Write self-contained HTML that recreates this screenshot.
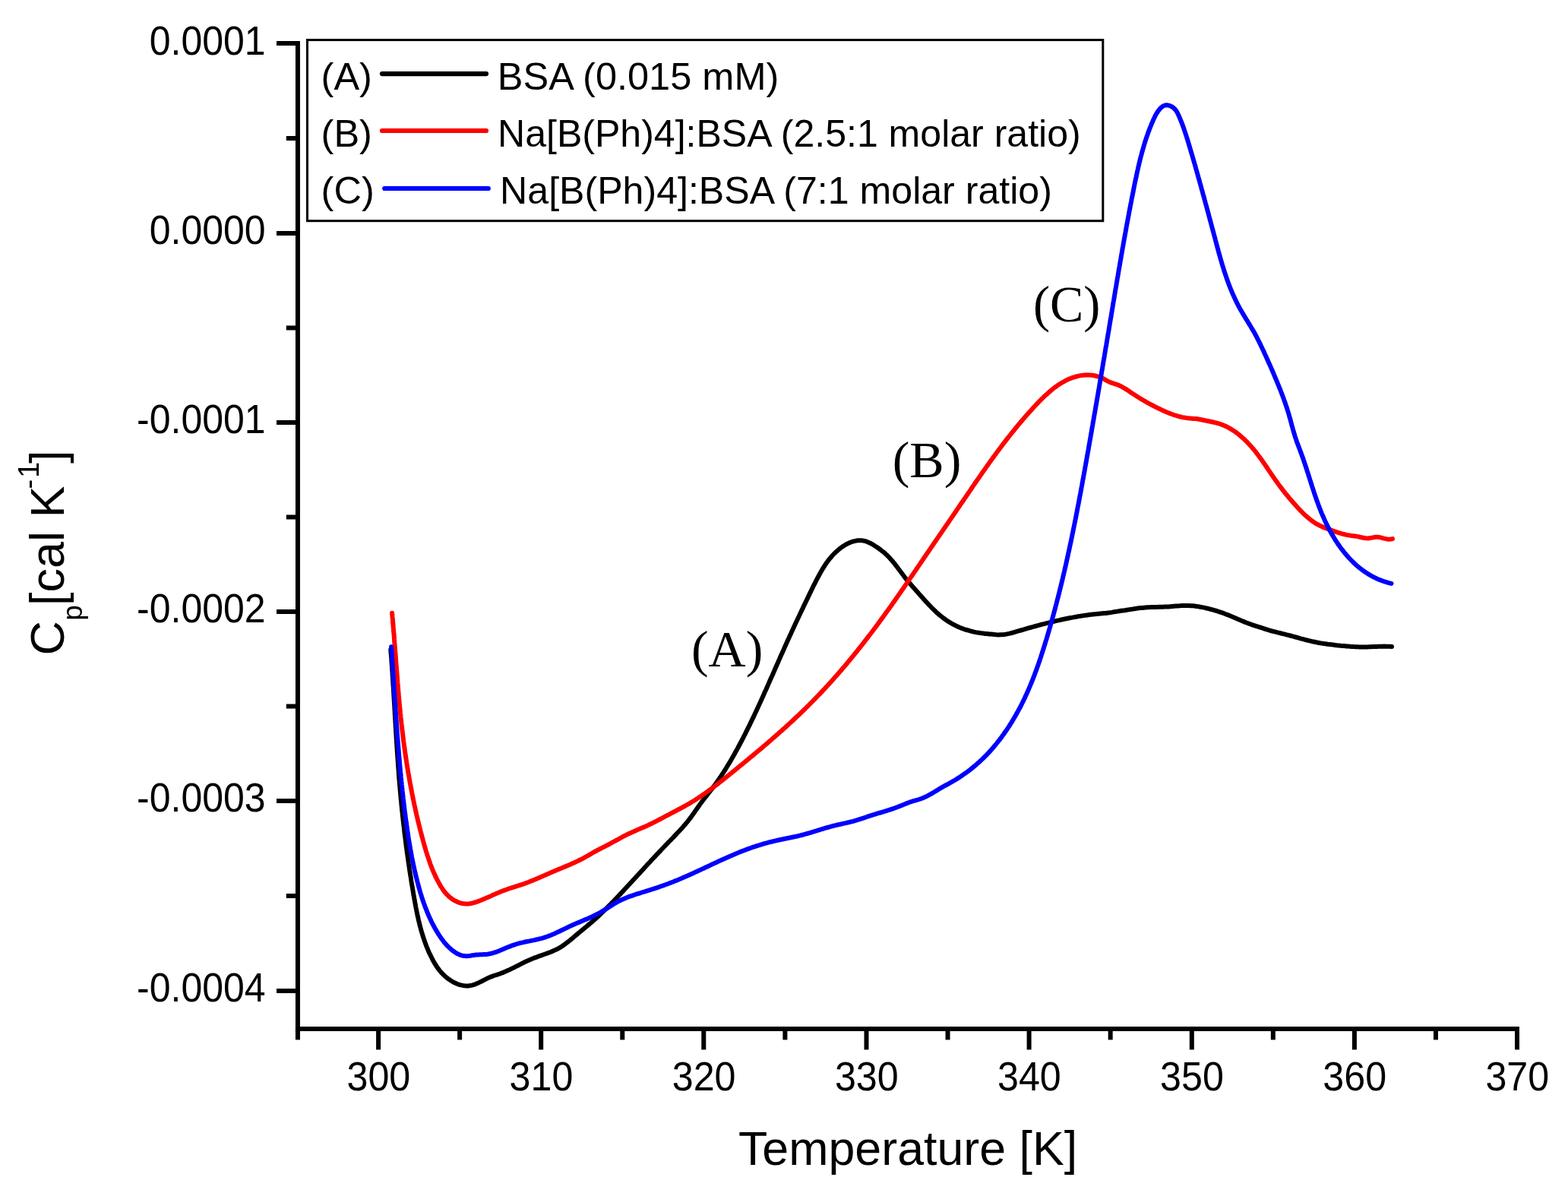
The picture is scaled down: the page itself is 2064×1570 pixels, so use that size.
<!DOCTYPE html>
<html><head><meta charset="utf-8"><title>Cp vs Temperature</title>
<style>
html,body{margin:0;padding:0;background:#fff;width:2064px;height:1570px;overflow:hidden}
svg{display:block}
.s{font-family:"Liberation Sans",Arial,sans-serif;fill:#000}
.r{font-family:"Liberation Serif","Times New Roman",serif;fill:#000}
</style></head><body>
<svg xmlns="http://www.w3.org/2000/svg" width="2064" height="1570" viewBox="0 0 2064 1570">
<rect width="2064" height="1570" fill="#fff"/>
<g stroke="#000" stroke-width="6" fill="none">
<path d="M391.95,54 V1357.0"/>
<path d="M388.95,1354.0 H2000"/>
<path d="M364,57.0 H391.9"/>
<path d="M364,307.0 H391.9"/>
<path d="M364,556.0 H391.9"/>
<path d="M364,805.0 H391.9"/>
<path d="M364,1054.0 H391.9"/>
<path d="M364,1304.0 H391.9"/>
<path d="M376.8,182.0 H391.9"/>
<path d="M376.8,431.5 H391.9"/>
<path d="M376.8,680.5 H391.9"/>
<path d="M376.8,929.5 H391.9"/>
<path d="M376.8,1179.0 H391.9"/>
<path d="M498.1,1354.0 V1381.4"/>
<path d="M712.2,1354.0 V1381.4"/>
<path d="M926.3,1354.0 V1381.4"/>
<path d="M1140.5,1354.0 V1381.4"/>
<path d="M1354.6,1354.0 V1381.4"/>
<path d="M1568.8,1354.0 V1381.4"/>
<path d="M1782.9,1354.0 V1381.4"/>
<path d="M1997.0,1354.0 V1381.4"/>
<path d="M391.95,1354.0 V1368.4"/>
<path d="M605.12,1354.0 V1368.4"/>
<path d="M819.26,1354.0 V1368.4"/>
<path d="M1033.40,1354.0 V1368.4"/>
<path d="M1247.54,1354.0 V1368.4"/>
<path d="M1461.68,1354.0 V1368.4"/>
<path d="M1675.82,1354.0 V1368.4"/>
<path d="M1889.96,1354.0 V1368.4"/>
</g>
<text class="s" x="349.6" y="0" font-size="50" text-anchor="end" transform="matrix(1 0 0 1.075 0 72.00)">0.0001</text>
<text class="s" x="349.6" y="0" font-size="50" text-anchor="end" transform="matrix(1 0 0 1.075 0 320.50)">0.0000</text>
<text class="s" x="349.6" y="0" font-size="50" text-anchor="end" transform="matrix(1 0 0 1.075 0 570.10)">-0.0001</text>
<text class="s" x="349.6" y="0" font-size="50" text-anchor="end" transform="matrix(1 0 0 1.075 0 818.80)">-0.0002</text>
<text class="s" x="349.6" y="0" font-size="50" text-anchor="end" transform="matrix(1 0 0 1.075 0 1067.60)">-0.0003</text>
<text class="s" x="349.6" y="0" font-size="50" text-anchor="end" transform="matrix(1 0 0 1.075 0 1318.00)">-0.0004</text>
<text class="s" x="498.4" y="0" font-size="50.2" text-anchor="middle" transform="matrix(1 0 0 1.07 0 1434.5)">300</text>
<text class="s" x="712.5" y="0" font-size="50.2" text-anchor="middle" transform="matrix(1 0 0 1.07 0 1434.5)">310</text>
<text class="s" x="926.6" y="0" font-size="50.2" text-anchor="middle" transform="matrix(1 0 0 1.07 0 1434.5)">320</text>
<text class="s" x="1140.8" y="0" font-size="50.2" text-anchor="middle" transform="matrix(1 0 0 1.07 0 1434.5)">330</text>
<text class="s" x="1354.9" y="0" font-size="50.2" text-anchor="middle" transform="matrix(1 0 0 1.07 0 1434.5)">340</text>
<text class="s" x="1569.0" y="0" font-size="50.2" text-anchor="middle" transform="matrix(1 0 0 1.07 0 1434.5)">350</text>
<text class="s" x="1783.2" y="0" font-size="50.2" text-anchor="middle" transform="matrix(1 0 0 1.07 0 1434.5)">360</text>
<text class="s" x="1997.3" y="0" font-size="50.2" text-anchor="middle" transform="matrix(1 0 0 1.07 0 1434.5)">370</text>
<text class="s" x="972" y="1533" font-size="63" textLength="446.2" lengthAdjust="spacingAndGlyphs">Temperature [K]</text>
<g class="s" transform="rotate(-90)" font-size="63"><text x="-862.4" y="84">C</text><text x="-816.8" y="107.6" font-size="37">p</text><text x="-797" y="84">[cal K</text><text x="-643.6" y="50.5" font-size="38">-</text><text x="-629" y="50.5" font-size="38">1</text><text x="-610" y="84">]</text></g>
<rect x="404.5" y="52.6" width="1047.3" height="238.1" fill="none" stroke="#000" stroke-width="3"/>
<text class="s" x="422.6" y="117.9" font-size="50.5">(A)</text>
<path d="M503.0,97.05 H640.0" stroke="#000" stroke-width="6.2" stroke-linecap="round" fill="none"/>
<text class="s" x="654.8" y="117.9" font-size="50.5">BSA (0.015 mM)</text>
<text class="s" x="422.6" y="192.9" font-size="50.5">(B)</text>
<path d="M503.0,172.00 H640.0" stroke="#f00" stroke-width="6.2" stroke-linecap="round" fill="none"/>
<text class="s" x="655.0" y="192.9" font-size="50.5" textLength="767.7" lengthAdjust="spacingAndGlyphs">Na[B(Ph)4]:BSA (2.5:1 molar ratio)</text>
<text class="s" x="422.6" y="268.4" font-size="50.5">(C)</text>
<path d="M506.2,248.00 H642.8" stroke="#00f" stroke-width="6.2" stroke-linecap="round" fill="none"/>
<text class="s" x="658.1" y="268.4" font-size="50.5" textLength="726.8" lengthAdjust="spacingAndGlyphs">Na[B(Ph)4]:BSA (7:1 molar ratio)</text>
<path d="M514.3,855.0 L514.5,857.5 L514.7,860.0 L514.9,862.5 L515.1,865.0 L515.3,867.5 L515.4,870.0 L515.6,872.5 L515.8,875.0 L516.0,877.5 L516.1,880.0 L516.3,882.5 L516.5,885.0 L516.6,887.5 L516.8,890.0 L517.0,892.5 L517.1,895.0 L517.3,897.5 L517.4,900.0 L517.6,902.4 L517.8,904.9 L517.9,907.4 L518.1,909.9 L518.2,912.4 L518.4,914.9 L518.5,917.4 L518.7,919.9 L518.8,922.4 L519.0,924.9 L519.1,927.4 L519.3,929.9 L519.4,932.4 L519.6,934.9 L519.7,937.4 L519.8,939.9 L520.0,942.4 L520.1,944.9 L520.3,947.4 L520.4,949.9 L520.6,952.4 L520.7,954.9 L520.9,957.4 L521.0,959.9 L521.2,962.4 L521.3,964.9 L521.5,967.4 L521.6,969.9 L521.8,972.4 L521.9,974.9 L522.1,977.4 L522.3,979.9 L522.4,982.4 L522.6,984.9 L522.7,987.3 L522.9,989.8 L523.1,992.3 L523.2,994.8 L523.4,997.3 L523.6,999.8 L523.8,1002.3 L523.9,1004.8 L524.1,1007.3 L524.3,1009.8 L524.5,1012.3 L524.7,1014.8 L524.8,1017.3 L525.0,1019.8 L525.2,1022.3 L525.4,1024.8 L525.6,1027.3 L525.8,1029.7 L526.0,1032.2 L526.3,1034.7 L526.5,1037.2 L526.7,1039.7 L526.9,1042.2 L527.1,1044.7 L527.4,1047.2 L527.6,1049.7 L527.8,1052.2 L528.1,1054.7 L528.3,1057.1 L528.5,1059.6 L528.8,1062.1 L529.0,1064.6 L529.3,1067.1 L529.6,1069.6 L529.8,1072.1 L530.1,1074.6 L530.4,1077.0 L530.6,1079.5 L530.9,1082.0 L531.2,1084.5 L531.5,1087.0 L531.8,1089.5 L532.1,1092.0 L532.3,1094.4 L532.6,1096.9 L532.9,1099.4 L533.3,1101.9 L533.6,1104.4 L533.9,1106.9 L534.2,1109.4 L534.5,1111.8 L534.8,1114.3 L535.2,1116.8 L535.5,1119.3 L535.8,1121.8 L536.2,1124.2 L536.5,1126.7 L536.9,1129.2 L537.2,1131.7 L537.6,1134.2 L537.9,1136.6 L538.3,1139.1 L538.7,1141.6 L539.0,1144.1 L539.4,1146.6 L539.8,1149.0 L540.2,1151.5 L540.6,1154.0 L541.0,1156.5 L541.3,1158.9 L541.7,1161.4 L542.1,1163.9 L542.6,1166.4 L543.0,1168.8 L543.4,1171.3 L543.8,1173.8 L544.2,1176.2 L544.6,1178.7 L545.1,1181.2 L545.5,1183.7 L546.0,1186.1 L546.4,1188.6 L546.9,1191.1 L547.3,1193.5 L547.8,1196.0 L548.3,1198.4 L548.8,1200.9 L549.3,1203.3 L549.8,1205.8 L550.4,1208.2 L550.9,1210.7 L551.5,1213.1 L552.1,1215.5 L552.7,1217.9 L553.3,1220.3 L554.0,1222.8 L554.6,1225.2 L555.3,1227.5 L556.1,1229.9 L556.8,1232.3 L557.6,1234.7 L558.4,1237.0 L559.2,1239.4 L560.0,1241.7 L560.9,1244.0 L561.8,1246.4 L562.8,1248.7 L563.7,1251.0 L564.7,1253.3 L565.8,1255.5 L566.9,1257.8 L568.0,1260.0 L569.1,1262.3 L570.3,1264.5 L571.6,1266.7 L572.9,1268.9 L574.2,1271.0 L575.6,1273.1 L577.1,1275.1 L578.6,1277.1 L580.2,1279.0 L581.9,1280.9 L583.7,1282.7 L585.5,1284.4 L587.4,1286.1 L589.4,1287.7 L591.4,1289.1 L593.5,1290.5 L595.6,1291.8 L597.8,1293.0 L600.0,1294.0 L602.3,1295.0 L604.6,1295.8 L606.9,1296.4 L609.3,1296.9 L611.7,1297.3 L614.1,1297.4 L616.5,1297.4 L618.9,1297.1 L621.3,1296.6 L623.7,1295.9 L626.1,1295.1 L628.6,1294.0 L630.9,1292.9 L633.3,1291.7 L635.7,1290.5 L638.0,1289.3 L640.3,1288.1 L642.6,1287.0 L644.9,1286.0 L647.2,1285.1 L649.5,1284.2 L651.8,1283.5 L654.0,1282.8 L656.3,1282.0 L658.5,1281.3 L660.8,1280.4 L663.0,1279.6 L665.3,1278.6 L667.5,1277.6 L669.8,1276.6 L672.0,1275.5 L674.3,1274.4 L676.6,1273.3 L678.8,1272.1 L681.1,1271.0 L683.4,1269.8 L685.6,1268.6 L687.9,1267.5 L690.2,1266.3 L692.5,1265.2 L694.8,1264.2 L697.1,1263.2 L699.4,1262.2 L701.7,1261.3 L704.0,1260.4 L706.3,1259.6 L708.6,1258.7 L710.9,1257.9 L713.2,1257.1 L715.4,1256.3 L717.7,1255.5 L720.0,1254.7 L722.2,1253.8 L724.5,1253.0 L726.7,1252.1 L729.0,1251.1 L731.2,1250.1 L733.4,1249.0 L735.6,1247.8 L737.7,1246.6 L739.9,1245.2 L742.0,1243.7 L744.1,1242.2 L746.2,1240.6 L748.3,1239.0 L750.4,1237.3 L752.4,1235.7 L754.4,1234.0 L756.4,1232.3 L758.4,1230.6 L760.4,1228.9 L762.3,1227.3 L764.2,1225.7 L766.1,1224.1 L768.1,1222.6 L769.9,1221.0 L771.8,1219.5 L773.7,1217.9 L775.5,1216.4 L777.4,1214.8 L779.2,1213.2 L781.1,1211.6 L782.9,1210.0 L784.7,1208.4 L786.5,1206.7 L788.3,1205.0 L790.1,1203.3 L791.9,1201.6 L793.7,1199.9 L795.5,1198.2 L797.3,1196.4 L799.0,1194.7 L800.8,1192.9 L802.5,1191.1 L804.3,1189.4 L806.0,1187.6 L807.8,1185.8 L809.5,1183.9 L811.3,1182.1 L813.0,1180.3 L814.7,1178.5 L816.5,1176.6 L818.2,1174.8 L819.9,1172.9 L821.6,1171.1 L823.3,1169.2 L825.0,1167.4 L826.7,1165.5 L828.4,1163.7 L830.2,1161.8 L831.9,1160.0 L833.6,1158.1 L835.3,1156.3 L837.0,1154.4 L838.7,1152.6 L840.4,1150.7 L842.1,1148.9 L843.8,1147.0 L845.5,1145.2 L847.2,1143.4 L848.8,1141.5 L850.5,1139.7 L852.2,1137.8 L853.9,1136.0 L855.6,1134.2 L857.3,1132.3 L859.0,1130.5 L860.7,1128.7 L862.4,1126.9 L864.1,1125.0 L865.9,1123.2 L867.6,1121.4 L869.3,1119.6 L871.0,1117.8 L872.7,1116.0 L874.4,1114.2 L876.1,1112.4 L877.9,1110.6 L879.6,1108.8 L881.3,1107.0 L883.0,1105.3 L884.8,1103.5 L886.5,1101.7 L888.2,1099.9 L889.9,1098.1 L891.6,1096.3 L893.3,1094.5 L895.0,1092.7 L896.7,1090.9 L898.4,1089.0 L900.0,1087.1 L901.7,1085.2 L903.3,1083.3 L904.9,1081.4 L906.4,1079.4 L908.0,1077.4 L909.5,1075.4 L911.0,1073.3 L912.5,1071.3 L913.9,1069.2 L915.4,1067.1 L916.9,1065.0 L918.3,1062.9 L919.8,1060.9 L921.2,1058.8 L922.7,1056.8 L924.2,1054.7 L925.7,1052.7 L927.2,1050.8 L928.7,1048.8 L930.3,1046.8 L931.8,1044.9 L933.3,1043.0 L934.8,1041.0 L936.4,1039.1 L937.9,1037.1 L939.4,1035.1 L940.8,1033.2 L942.3,1031.2 L943.7,1029.2 L945.2,1027.1 L946.6,1025.1 L948.0,1023.0 L949.4,1021.0 L950.7,1018.9 L952.1,1016.8 L953.5,1014.7 L954.8,1012.6 L956.1,1010.5 L957.4,1008.3 L958.7,1006.2 L960.0,1004.1 L961.3,1001.9 L962.6,999.7 L963.8,997.6 L965.1,995.4 L966.3,993.2 L967.5,991.0 L968.7,988.8 L970.0,986.6 L971.2,984.4 L972.3,982.2 L973.5,980.0 L974.7,977.8 L975.9,975.5 L977.0,973.3 L978.2,971.1 L979.3,968.8 L980.5,966.6 L981.6,964.4 L982.7,962.1 L983.8,959.9 L984.9,957.7 L986.1,955.4 L987.2,953.2 L988.2,950.9 L989.3,948.7 L990.4,946.4 L991.5,944.1 L992.6,941.9 L993.6,939.6 L994.7,937.3 L995.8,935.1 L996.8,932.8 L997.9,930.5 L998.9,928.3 L999.9,926.0 L1001.0,923.7 L1002.0,921.4 L1003.0,919.2 L1004.1,916.9 L1005.1,914.6 L1006.1,912.3 L1007.1,910.0 L1008.2,907.8 L1009.2,905.5 L1010.2,903.2 L1011.2,900.9 L1012.2,898.6 L1013.2,896.3 L1014.2,894.1 L1015.2,891.8 L1016.3,889.5 L1017.3,887.2 L1018.3,884.9 L1019.3,882.6 L1020.3,880.3 L1021.3,878.0 L1022.3,875.7 L1023.3,873.5 L1024.3,871.2 L1025.3,868.9 L1026.3,866.6 L1027.3,864.3 L1028.3,862.0 L1029.4,859.7 L1030.4,857.5 L1031.4,855.2 L1032.4,852.9 L1033.4,850.6 L1034.5,848.3 L1035.5,846.1 L1036.5,843.8 L1037.5,841.5 L1038.6,839.2 L1039.6,836.9 L1040.7,834.7 L1041.7,832.4 L1042.7,830.1 L1043.8,827.9 L1044.8,825.6 L1045.9,823.3 L1046.9,821.1 L1048.0,818.8 L1049.1,816.5 L1050.1,814.3 L1051.2,812.0 L1052.3,809.7 L1053.3,807.5 L1054.4,805.2 L1055.5,802.9 L1056.6,800.7 L1057.6,798.4 L1058.7,796.2 L1059.8,793.9 L1060.9,791.6 L1062.0,789.4 L1063.1,787.1 L1064.1,784.9 L1065.2,782.6 L1066.3,780.4 L1067.4,778.1 L1068.5,775.8 L1069.6,773.6 L1070.7,771.3 L1071.8,769.1 L1073.0,766.8 L1074.1,764.6 L1075.2,762.4 L1076.4,760.2 L1077.6,758.0 L1078.8,755.8 L1080.0,753.6 L1081.2,751.5 L1082.5,749.3 L1083.8,747.2 L1085.1,745.1 L1086.4,743.1 L1087.8,741.0 L1089.3,739.0 L1090.7,737.0 L1092.3,735.1 L1093.9,733.2 L1095.5,731.3 L1097.2,729.5 L1099.0,727.7 L1100.9,725.9 L1102.8,724.2 L1104.8,722.5 L1106.9,720.9 L1109.0,719.4 L1111.2,718.0 L1113.4,716.7 L1115.6,715.5 L1117.9,714.4 L1120.2,713.5 L1122.5,712.7 L1124.9,712.1 L1127.2,711.6 L1129.6,711.3 L1131.9,711.2 L1134.3,711.3 L1136.6,711.6 L1139.0,712.2 L1141.3,712.9 L1143.6,713.9 L1145.8,715.0 L1148.1,716.2 L1150.3,717.5 L1152.4,718.9 L1154.6,720.3 L1156.7,721.8 L1158.7,723.2 L1160.7,724.8 L1162.7,726.3 L1164.6,727.9 L1166.4,729.6 L1168.2,731.3 L1170.0,733.1 L1171.7,735.0 L1173.4,736.9 L1175.0,738.8 L1176.6,740.7 L1178.2,742.7 L1179.7,744.7 L1181.3,746.7 L1182.8,748.8 L1184.3,750.8 L1185.8,752.8 L1187.3,754.8 L1188.8,756.8 L1190.3,758.8 L1191.9,760.8 L1193.4,762.7 L1195.0,764.6 L1196.5,766.4 L1198.1,768.3 L1199.7,770.1 L1201.3,772.0 L1202.9,773.8 L1204.6,775.6 L1206.2,777.5 L1207.8,779.3 L1209.5,781.2 L1211.1,783.1 L1212.8,784.9 L1214.5,786.8 L1216.1,788.7 L1217.8,790.6 L1219.6,792.5 L1221.3,794.3 L1223.0,796.2 L1224.8,798.0 L1226.6,799.9 L1228.4,801.6 L1230.2,803.4 L1232.0,805.2 L1233.9,806.9 L1235.8,808.5 L1237.7,810.2 L1239.7,811.7 L1241.6,813.3 L1243.7,814.8 L1245.7,816.2 L1247.8,817.6 L1249.9,818.9 L1252.0,820.2 L1254.2,821.4 L1256.4,822.5 L1258.6,823.6 L1260.9,824.7 L1263.1,825.7 L1265.5,826.6 L1267.8,827.5 L1270.1,828.3 L1272.5,829.0 L1274.9,829.7 L1277.3,830.4 L1279.7,831.0 L1282.1,831.6 L1284.6,832.1 L1287.0,832.5 L1289.5,832.9 L1292.0,833.3 L1294.4,833.6 L1296.9,833.9 L1299.4,834.1 L1301.9,834.4 L1304.4,834.6 L1306.9,834.8 L1309.4,835.1 L1311.9,835.3 L1314.4,835.4 L1316.8,835.3 L1319.3,835.2 L1321.8,835.0 L1324.2,834.6 L1326.7,834.1 L1329.2,833.6 L1331.6,833.0 L1334.0,832.3 L1336.5,831.6 L1338.9,830.9 L1341.3,830.2 L1343.8,829.5 L1346.2,828.8 L1348.6,828.1 L1351.0,827.4 L1353.4,826.7 L1355.9,826.0 L1358.3,825.3 L1360.7,824.7 L1363.1,824.0 L1365.5,823.3 L1368.0,822.7 L1370.4,822.0 L1372.8,821.4 L1375.2,820.8 L1377.6,820.2 L1380.1,819.6 L1382.5,819.0 L1384.9,818.4 L1387.3,817.8 L1389.8,817.2 L1392.2,816.6 L1394.6,816.1 L1397.1,815.5 L1399.5,815.0 L1401.9,814.5 L1404.4,814.0 L1406.8,813.5 L1409.3,813.0 L1411.7,812.6 L1414.2,812.1 L1416.6,811.7 L1419.0,811.3 L1421.5,810.9 L1423.9,810.5 L1426.4,810.1 L1428.8,809.7 L1431.3,809.4 L1433.7,809.1 L1436.2,808.8 L1438.7,808.5 L1441.1,808.2 L1443.6,808.0 L1446.0,807.7 L1448.5,807.5 L1451.0,807.3 L1453.4,807.1 L1455.9,806.9 L1458.4,806.6 L1460.8,806.3 L1463.3,805.9 L1465.8,805.4 L1468.3,805.0 L1470.7,804.6 L1473.2,804.2 L1475.7,803.8 L1478.2,803.5 L1480.6,803.2 L1483.1,802.8 L1485.6,802.4 L1488.1,802.0 L1490.6,801.6 L1493.1,801.2 L1495.6,800.8 L1498.0,800.4 L1500.5,800.1 L1503.0,799.9 L1505.5,799.7 L1508.0,799.5 L1510.5,799.3 L1513.0,799.2 L1515.5,799.1 L1518.0,799.0 L1520.5,799.0 L1523.0,798.9 L1525.5,798.8 L1528.0,798.8 L1530.5,798.7 L1533.0,798.6 L1535.5,798.5 L1537.9,798.4 L1540.4,798.2 L1542.9,798.0 L1545.4,797.8 L1547.9,797.6 L1550.4,797.4 L1552.8,797.3 L1555.3,797.1 L1557.8,797.0 L1560.3,797.0 L1562.7,797.0 L1565.2,797.0 L1567.7,797.2 L1570.1,797.3 L1572.6,797.6 L1575.0,797.9 L1577.5,798.3 L1579.9,798.7 L1582.3,799.1 L1584.8,799.6 L1587.2,800.2 L1589.6,800.7 L1592.0,801.3 L1594.5,802.0 L1596.9,802.6 L1599.3,803.3 L1601.7,804.0 L1604.0,804.8 L1606.4,805.6 L1608.8,806.4 L1611.2,807.3 L1613.5,808.2 L1615.9,809.1 L1618.2,810.1 L1620.6,811.1 L1622.9,812.0 L1625.3,813.0 L1627.6,814.0 L1629.9,815.0 L1632.3,816.0 L1634.6,817.0 L1636.9,817.9 L1639.3,818.9 L1641.6,819.8 L1643.9,820.7 L1646.2,821.5 L1648.6,822.4 L1650.9,823.1 L1653.2,823.9 L1655.6,824.6 L1657.9,825.3 L1660.3,826.0 L1662.6,826.8 L1664.9,827.6 L1667.3,828.4 L1669.7,829.1 L1672.0,829.8 L1674.4,830.5 L1676.8,831.1 L1679.2,831.7 L1681.6,832.3 L1684.0,832.9 L1686.4,833.5 L1688.8,834.1 L1691.2,834.7 L1693.6,835.3 L1696.0,835.9 L1698.4,836.5 L1700.9,837.2 L1703.3,837.8 L1705.7,838.5 L1708.2,839.2 L1710.6,839.9 L1713.0,840.6 L1715.5,841.2 L1717.9,841.9 L1720.4,842.5 L1722.8,843.1 L1725.3,843.7 L1727.7,844.3 L1730.2,844.8 L1732.7,845.3 L1735.1,845.7 L1737.6,846.2 L1740.0,846.6 L1742.5,847.0 L1745.0,847.3 L1747.4,847.7 L1749.9,848.0 L1752.4,848.3 L1754.8,848.6 L1757.3,848.9 L1759.8,849.2 L1762.2,849.4 L1764.7,849.7 L1767.2,849.9 L1769.7,850.1 L1772.2,850.4 L1774.6,850.6 L1777.1,850.8 L1779.6,850.9 L1782.1,851.1 L1784.6,851.2 L1787.1,851.3 L1789.5,851.4 L1792.0,851.4 L1794.5,851.4 L1797.0,851.4 L1799.5,851.4 L1802.0,851.3 L1804.5,851.2 L1807.0,851.1 L1809.5,851.0 L1812.0,850.9 L1814.5,850.8 L1817.0,850.7 L1819.5,850.7 L1822.0,850.6 L1824.5,850.7 L1827.0,850.7 L1829.5,850.8 L1832.0,851.0" fill="none" stroke="#000" stroke-width="6" stroke-linejoin="round" stroke-linecap="round"/>
<path d="M516.1,806.8 L516.3,809.3 L516.5,811.8 L516.8,814.3 L517.0,816.8 L517.2,819.3 L517.4,821.8 L517.6,824.2 L517.8,826.7 L518.0,829.2 L518.2,831.7 L518.5,834.2 L518.7,836.7 L518.9,839.2 L519.0,841.7 L519.2,844.2 L519.4,846.7 L519.6,849.2 L519.8,851.7 L520.0,854.2 L520.2,856.7 L520.4,859.1 L520.6,861.6 L520.8,864.1 L521.0,866.6 L521.1,869.1 L521.3,871.6 L521.5,874.1 L521.7,876.6 L521.9,879.1 L522.1,881.6 L522.3,884.1 L522.5,886.6 L522.7,889.1 L522.9,891.5 L523.1,894.0 L523.2,896.5 L523.4,899.0 L523.7,901.5 L523.9,904.0 L524.1,906.5 L524.3,909.0 L524.5,911.5 L524.7,914.0 L524.9,916.4 L525.1,918.9 L525.4,921.4 L525.6,923.9 L525.8,926.4 L526.0,928.9 L526.3,931.4 L526.5,933.9 L526.8,936.4 L527.0,938.8 L527.3,941.3 L527.5,943.8 L527.8,946.3 L528.1,948.8 L528.3,951.3 L528.6,953.8 L528.9,956.3 L529.2,958.7 L529.5,961.2 L529.8,963.7 L530.1,966.2 L530.4,968.7 L530.7,971.2 L531.0,973.6 L531.3,976.1 L531.7,978.6 L532.0,981.1 L532.3,983.6 L532.7,986.0 L533.0,988.5 L533.4,991.0 L533.7,993.5 L534.1,996.0 L534.5,998.4 L534.9,1000.9 L535.2,1003.4 L535.6,1005.9 L536.0,1008.3 L536.4,1010.8 L536.8,1013.3 L537.2,1015.7 L537.6,1018.2 L538.1,1020.7 L538.5,1023.1 L538.9,1025.6 L539.4,1028.1 L539.8,1030.5 L540.3,1033.0 L540.7,1035.4 L541.2,1037.9 L541.7,1040.3 L542.1,1042.8 L542.6,1045.3 L543.1,1047.7 L543.6,1050.2 L544.1,1052.6 L544.6,1055.0 L545.1,1057.5 L545.6,1059.9 L546.2,1062.4 L546.7,1064.8 L547.2,1067.3 L547.8,1069.7 L548.3,1072.1 L548.9,1074.6 L549.5,1077.0 L550.0,1079.4 L550.6,1081.8 L551.2,1084.3 L551.8,1086.7 L552.4,1089.1 L553.0,1091.5 L553.6,1094.0 L554.3,1096.4 L554.9,1098.8 L555.5,1101.2 L556.2,1103.6 L556.8,1106.0 L557.5,1108.4 L558.1,1110.8 L558.8,1113.2 L559.5,1115.6 L560.2,1118.0 L560.9,1120.4 L561.7,1122.8 L562.4,1125.2 L563.2,1127.5 L564.0,1129.9 L564.8,1132.3 L565.6,1134.6 L566.4,1137.0 L567.3,1139.3 L568.2,1141.6 L569.1,1143.9 L570.1,1146.3 L571.1,1148.6 L572.1,1150.8 L573.2,1153.1 L574.3,1155.4 L575.4,1157.7 L576.6,1159.9 L577.8,1162.1 L579.0,1164.4 L580.3,1166.6 L581.7,1168.7 L583.1,1170.8 L584.6,1172.9 L586.1,1174.8 L587.8,1176.7 L589.6,1178.5 L591.4,1180.2 L593.3,1181.8 L595.4,1183.3 L597.5,1184.6 L599.7,1185.8 L601.9,1186.9 L604.2,1187.8 L606.5,1188.5 L608.8,1189.0 L611.2,1189.3 L613.5,1189.5 L615.9,1189.4 L618.3,1189.2 L620.6,1188.8 L623.0,1188.2 L625.4,1187.5 L627.7,1186.8 L630.1,1185.9 L632.5,1185.0 L634.8,1184.0 L637.2,1183.0 L639.6,1182.0 L641.9,1181.0 L644.3,1179.9 L646.7,1178.9 L649.0,1177.8 L651.4,1176.8 L653.7,1175.8 L656.1,1174.8 L658.5,1173.8 L660.8,1172.8 L663.2,1171.9 L665.5,1171.1 L667.9,1170.2 L670.2,1169.4 L672.6,1168.7 L674.9,1167.9 L677.3,1167.2 L679.6,1166.4 L682.0,1165.7 L684.3,1164.9 L686.7,1164.1 L689.0,1163.3 L691.3,1162.5 L693.7,1161.7 L696.0,1160.8 L698.3,1159.8 L700.6,1158.9 L703.0,1157.9 L705.3,1156.9 L707.6,1155.9 L709.9,1154.9 L712.2,1153.9 L714.5,1152.9 L716.8,1151.9 L719.1,1150.9 L721.4,1149.9 L723.7,1148.9 L726.0,1147.9 L728.3,1147.0 L730.5,1146.0 L732.8,1145.1 L735.1,1144.1 L737.4,1143.2 L739.6,1142.3 L741.9,1141.3 L744.1,1140.4 L746.4,1139.4 L748.7,1138.5 L750.9,1137.5 L753.1,1136.5 L755.4,1135.5 L757.6,1134.5 L759.9,1133.4 L762.1,1132.3 L764.3,1131.2 L766.6,1130.1 L768.8,1128.9 L771.0,1127.7 L773.3,1126.4 L775.5,1125.1 L777.7,1123.8 L779.9,1122.5 L782.2,1121.2 L784.4,1120.0 L786.6,1118.8 L788.8,1117.7 L791.0,1116.5 L793.3,1115.4 L795.5,1114.3 L797.7,1113.1 L799.9,1112.0 L802.1,1110.8 L804.3,1109.6 L806.5,1108.4 L808.8,1107.2 L811.0,1106.0 L813.2,1104.8 L815.4,1103.6 L817.6,1102.4 L819.8,1101.2 L822.0,1100.0 L824.3,1098.9 L826.5,1097.8 L828.7,1096.7 L830.9,1095.7 L833.2,1094.7 L835.4,1093.7 L837.6,1092.7 L839.8,1091.8 L842.1,1090.8 L844.3,1089.8 L846.5,1088.9 L848.8,1087.9 L851.0,1086.9 L853.3,1085.9 L855.5,1084.8 L857.8,1083.7 L860.0,1082.6 L862.3,1081.5 L864.5,1080.4 L866.8,1079.2 L869.0,1078.0 L871.3,1076.8 L873.5,1075.6 L875.8,1074.4 L878.0,1073.2 L880.3,1072.1 L882.5,1070.9 L884.7,1069.7 L887.0,1068.5 L889.2,1067.4 L891.4,1066.2 L893.6,1065.0 L895.8,1063.8 L898.0,1062.7 L900.2,1061.5 L902.4,1060.3 L904.5,1059.0 L906.7,1057.8 L908.8,1056.6 L910.9,1055.3 L913.1,1054.0 L915.2,1052.7 L917.2,1051.3 L919.3,1050.0 L921.4,1048.6 L923.5,1047.2 L925.5,1045.8 L927.5,1044.4 L929.6,1042.9 L931.6,1041.5 L933.6,1040.0 L935.6,1038.5 L937.6,1037.1 L939.6,1035.6 L941.6,1034.0 L943.6,1032.5 L945.6,1031.0 L947.5,1029.4 L949.5,1027.9 L951.4,1026.3 L953.4,1024.8 L955.4,1023.2 L957.3,1021.6 L959.3,1020.1 L961.2,1018.5 L963.2,1016.9 L965.1,1015.3 L967.0,1013.8 L969.0,1012.2 L970.9,1010.6 L972.9,1009.0 L974.8,1007.4 L976.8,1005.9 L978.7,1004.3 L980.6,1002.7 L982.6,1001.1 L984.5,999.5 L986.4,997.9 L988.3,996.3 L990.3,994.7 L992.2,993.1 L994.1,991.5 L996.0,989.9 L997.9,988.3 L999.9,986.7 L1001.8,985.1 L1003.7,983.5 L1005.6,981.8 L1007.5,980.2 L1009.4,978.6 L1011.3,977.0 L1013.2,975.3 L1015.1,973.7 L1016.9,972.1 L1018.8,970.4 L1020.7,968.8 L1022.6,967.1 L1024.5,965.5 L1026.3,963.8 L1028.2,962.2 L1030.1,960.5 L1031.9,958.8 L1033.8,957.2 L1035.6,955.5 L1037.5,953.8 L1039.3,952.1 L1041.1,950.4 L1043.0,948.7 L1044.8,947.0 L1046.6,945.3 L1048.4,943.6 L1050.3,941.9 L1052.1,940.2 L1053.9,938.5 L1055.7,936.7 L1057.5,935.0 L1059.3,933.3 L1061.0,931.5 L1062.8,929.8 L1064.6,928.0 L1066.4,926.2 L1068.1,924.5 L1069.9,922.7 L1071.6,920.9 L1073.4,919.1 L1075.1,917.3 L1076.8,915.5 L1078.6,913.7 L1080.3,911.9 L1082.0,910.1 L1083.7,908.3 L1085.4,906.5 L1087.1,904.6 L1088.8,902.8 L1090.5,900.9 L1092.2,899.1 L1093.9,897.2 L1095.5,895.4 L1097.2,893.5 L1098.9,891.6 L1100.5,889.8 L1102.2,887.9 L1103.8,886.0 L1105.5,884.1 L1107.1,882.2 L1108.7,880.3 L1110.3,878.4 L1112.0,876.5 L1113.6,874.6 L1115.2,872.7 L1116.8,870.7 L1118.4,868.8 L1120.0,866.9 L1121.6,864.9 L1123.2,863.0 L1124.7,861.1 L1126.3,859.1 L1127.9,857.2 L1129.4,855.2 L1131.0,853.2 L1132.6,851.3 L1134.1,849.3 L1135.7,847.3 L1137.2,845.4 L1138.7,843.4 L1140.3,841.4 L1141.8,839.4 L1143.3,837.4 L1144.8,835.5 L1146.4,833.5 L1147.9,831.5 L1149.4,829.5 L1150.9,827.5 L1152.4,825.5 L1153.9,823.5 L1155.4,821.5 L1156.9,819.4 L1158.3,817.4 L1159.8,815.4 L1161.3,813.4 L1162.8,811.4 L1164.2,809.4 L1165.7,807.3 L1167.1,805.3 L1168.6,803.3 L1170.1,801.2 L1171.5,799.2 L1173.0,797.2 L1174.4,795.2 L1175.8,793.1 L1177.3,791.1 L1178.7,789.0 L1180.1,787.0 L1181.6,785.0 L1183.0,782.9 L1184.4,780.9 L1185.8,778.8 L1187.2,776.8 L1188.7,774.7 L1190.1,772.7 L1191.5,770.6 L1192.9,768.6 L1194.3,766.5 L1195.7,764.5 L1197.1,762.4 L1198.5,760.4 L1200.0,758.3 L1201.4,756.2 L1202.8,754.2 L1204.2,752.1 L1205.6,750.1 L1207.0,748.0 L1208.4,745.9 L1209.8,743.9 L1211.2,741.8 L1212.6,739.7 L1214.0,737.7 L1215.4,735.6 L1216.8,733.5 L1218.2,731.5 L1219.6,729.4 L1221.1,727.3 L1222.5,725.2 L1223.9,723.2 L1225.3,721.1 L1226.7,719.0 L1228.1,717.0 L1229.5,714.9 L1231.0,712.8 L1232.4,710.7 L1233.8,708.7 L1235.2,706.6 L1236.6,704.5 L1238.1,702.5 L1239.5,700.4 L1240.9,698.3 L1242.3,696.2 L1243.7,694.2 L1245.2,692.1 L1246.6,690.0 L1248.0,688.0 L1249.4,685.9 L1250.8,683.8 L1252.2,681.7 L1253.7,679.7 L1255.1,677.6 L1256.5,675.5 L1257.9,673.5 L1259.3,671.4 L1260.7,669.3 L1262.1,667.2 L1263.5,665.2 L1264.9,663.1 L1266.4,661.0 L1267.8,659.0 L1269.2,656.9 L1270.6,654.9 L1272.0,652.8 L1273.4,650.7 L1274.8,648.7 L1276.2,646.6 L1277.6,644.6 L1279.0,642.5 L1280.4,640.4 L1281.8,638.4 L1283.2,636.3 L1284.6,634.3 L1286.0,632.2 L1287.4,630.2 L1288.9,628.2 L1290.3,626.1 L1291.7,624.1 L1293.1,622.0 L1294.5,620.0 L1296.0,618.0 L1297.4,615.9 L1298.8,613.9 L1300.3,611.9 L1301.7,609.9 L1303.2,607.8 L1304.6,605.8 L1306.1,603.8 L1307.5,601.8 L1309.0,599.8 L1310.5,597.8 L1311.9,595.8 L1313.4,593.8 L1314.9,591.8 L1316.4,589.8 L1317.9,587.8 L1319.4,585.8 L1320.9,583.8 L1322.4,581.8 L1323.9,579.9 L1325.4,577.9 L1327.0,575.9 L1328.5,574.0 L1330.1,572.0 L1331.6,570.0 L1333.2,568.1 L1334.8,566.2 L1336.3,564.2 L1337.9,562.3 L1339.5,560.3 L1341.1,558.4 L1342.7,556.5 L1344.4,554.6 L1346.0,552.6 L1347.6,550.7 L1349.3,548.8 L1350.9,546.9 L1352.6,545.0 L1354.3,543.1 L1356.0,541.3 L1357.7,539.4 L1359.4,537.5 L1361.1,535.6 L1362.8,533.8 L1364.6,531.9 L1366.3,530.1 L1368.1,528.2 L1369.9,526.4 L1371.7,524.6 L1373.5,522.8 L1375.3,521.1 L1377.2,519.4 L1379.1,517.7 L1381.0,516.0 L1382.9,514.4 L1384.8,512.8 L1386.7,511.2 L1388.7,509.7 L1390.7,508.3 L1392.7,506.8 L1394.8,505.5 L1396.9,504.2 L1399.0,503.0 L1401.1,501.8 L1403.2,500.7 L1405.4,499.6 L1407.7,498.6 L1409.9,497.7 L1412.2,496.9 L1414.5,496.2 L1416.9,495.5 L1419.2,494.9 L1421.6,494.4 L1424.1,494.0 L1426.5,493.7 L1429.0,493.6 L1431.5,493.5 L1434.0,493.6 L1436.4,493.7 L1438.9,494.0 L1441.4,494.5 L1443.9,495.1 L1446.3,495.8 L1448.8,496.7 L1451.2,497.7 L1453.6,499.0 L1455.9,500.3 L1458.2,501.6 L1460.5,502.7 L1462.8,503.6 L1465.1,504.4 L1467.3,505.1 L1469.5,505.8 L1471.7,506.6 L1473.9,507.5 L1476.1,508.6 L1478.2,509.8 L1480.4,511.1 L1482.5,512.4 L1484.7,513.8 L1486.8,515.2 L1488.9,516.7 L1491.0,518.1 L1493.2,519.5 L1495.3,520.8 L1497.4,522.2 L1499.5,523.5 L1501.7,524.8 L1503.8,526.1 L1506.0,527.3 L1508.1,528.6 L1510.3,529.8 L1512.4,531.0 L1514.6,532.2 L1516.8,533.3 L1519.0,534.5 L1521.2,535.6 L1523.5,536.7 L1525.7,537.8 L1528.0,538.9 L1530.2,540.0 L1532.5,541.0 L1534.8,542.0 L1537.1,543.0 L1539.5,543.9 L1541.8,544.8 L1544.2,545.7 L1546.6,546.5 L1548.9,547.2 L1551.3,547.9 L1553.8,548.5 L1556.2,549.1 L1558.6,549.5 L1561.1,549.9 L1563.5,550.3 L1566.0,550.5 L1568.4,550.7 L1570.9,550.9 L1573.4,551.1 L1575.9,551.3 L1578.4,551.7 L1580.9,552.2 L1583.4,552.7 L1585.8,553.2 L1588.3,553.8 L1590.7,554.3 L1593.2,554.8 L1595.6,555.3 L1598.0,555.8 L1600.4,556.4 L1602.8,557.0 L1605.1,557.7 L1607.4,558.5 L1609.7,559.4 L1612.0,560.3 L1614.2,561.3 L1616.4,562.4 L1618.6,563.6 L1620.7,564.9 L1622.8,566.2 L1624.9,567.6 L1627.0,569.0 L1629.0,570.5 L1631.0,572.1 L1632.9,573.7 L1634.8,575.4 L1636.7,577.1 L1638.6,578.8 L1640.4,580.6 L1642.2,582.4 L1643.9,584.3 L1645.6,586.1 L1647.3,588.0 L1649.0,589.9 L1650.6,591.9 L1652.2,593.8 L1653.7,595.8 L1655.2,597.8 L1656.7,599.8 L1658.2,601.8 L1659.7,603.8 L1661.1,605.8 L1662.5,607.8 L1664.0,609.9 L1665.4,611.9 L1666.8,614.0 L1668.1,616.0 L1669.5,618.1 L1670.9,620.1 L1672.3,622.2 L1673.7,624.3 L1675.1,626.3 L1676.5,628.3 L1677.9,630.4 L1679.3,632.4 L1680.8,634.4 L1682.2,636.4 L1683.7,638.5 L1685.2,640.4 L1686.7,642.4 L1688.2,644.4 L1689.7,646.4 L1691.3,648.3 L1692.9,650.3 L1694.5,652.2 L1696.1,654.2 L1697.7,656.1 L1699.3,658.0 L1700.9,659.9 L1702.6,661.7 L1704.2,663.6 L1705.9,665.5 L1707.5,667.3 L1709.2,669.1 L1710.9,670.9 L1712.6,672.7 L1714.4,674.5 L1716.1,676.2 L1718.0,677.9 L1719.8,679.6 L1721.8,681.3 L1723.7,682.9 L1725.7,684.5 L1727.8,686.0 L1729.8,687.4 L1731.9,688.8 L1734.1,690.0 L1736.3,691.2 L1738.5,692.3 L1740.7,693.3 L1742.9,694.3 L1745.2,695.2 L1747.5,696.0 L1749.8,696.9 L1752.1,697.7 L1754.5,698.5 L1756.8,699.4 L1759.2,700.2 L1761.6,701.0 L1764.0,701.7 L1766.4,702.4 L1768.8,703.0 L1771.3,703.6 L1773.7,704.1 L1776.1,704.5 L1778.6,704.9 L1781.0,705.2 L1783.5,705.5 L1786.0,705.9 L1788.5,706.4 L1790.9,707.0 L1793.4,707.5 L1795.9,708.0 L1798.4,708.3 L1800.9,708.4 L1803.4,708.1 L1805.9,707.6 L1808.3,707.2 L1810.8,706.8 L1813.3,706.8 L1815.8,707.1 L1818.3,707.6 L1820.7,708.3 L1823.2,708.9 L1825.7,709.4 L1828.1,709.7 L1830.5,709.6 L1833.0,709.1" fill="none" stroke="#f00" stroke-width="6" stroke-linejoin="round" stroke-linecap="round"/>
<path d="M515.1,851.2 L515.3,853.7 L515.4,856.2 L515.6,858.7 L515.8,861.2 L515.9,863.7 L516.1,866.2 L516.3,868.7 L516.4,871.2 L516.6,873.7 L516.8,876.2 L516.9,878.7 L517.1,881.2 L517.3,883.7 L517.4,886.2 L517.6,888.7 L517.8,891.2 L517.9,893.7 L518.1,896.2 L518.3,898.7 L518.4,901.2 L518.6,903.7 L518.8,906.2 L518.9,908.7 L519.1,911.2 L519.3,913.7 L519.4,916.2 L519.6,918.6 L519.7,921.1 L519.9,923.6 L520.1,926.1 L520.3,928.6 L520.4,931.1 L520.6,933.6 L520.8,936.1 L520.9,938.6 L521.1,941.1 L521.3,943.5 L521.5,946.0 L521.6,948.5 L521.8,951.0 L522.0,953.5 L522.2,956.0 L522.4,958.5 L522.5,961.0 L522.7,963.4 L522.9,965.9 L523.1,968.4 L523.3,970.9 L523.5,973.4 L523.7,975.9 L523.9,978.4 L524.1,980.8 L524.3,983.3 L524.5,985.8 L524.7,988.3 L524.9,990.8 L525.1,993.3 L525.3,995.8 L525.5,998.2 L525.8,1000.7 L526.0,1003.2 L526.2,1005.7 L526.4,1008.2 L526.6,1010.7 L526.9,1013.2 L527.1,1015.6 L527.4,1018.1 L527.6,1020.6 L527.8,1023.1 L528.1,1025.6 L528.3,1028.1 L528.6,1030.6 L528.8,1033.0 L529.1,1035.5 L529.4,1038.0 L529.6,1040.5 L529.9,1043.0 L530.2,1045.5 L530.5,1048.0 L530.7,1050.5 L531.0,1052.9 L531.3,1055.4 L531.6,1057.9 L531.9,1060.4 L532.2,1062.9 L532.5,1065.4 L532.8,1067.9 L533.2,1070.4 L533.5,1072.9 L533.8,1075.4 L534.1,1077.8 L534.5,1080.3 L534.8,1082.8 L535.2,1085.3 L535.5,1087.8 L535.9,1090.3 L536.2,1092.8 L536.6,1095.3 L537.0,1097.8 L537.3,1100.3 L537.7,1102.7 L538.1,1105.2 L538.5,1107.7 L538.9,1110.2 L539.4,1112.7 L539.8,1115.2 L540.2,1117.6 L540.7,1120.1 L541.1,1122.6 L541.6,1125.0 L542.0,1127.5 L542.5,1130.0 L543.0,1132.4 L543.5,1134.9 L544.0,1137.3 L544.5,1139.8 L545.1,1142.2 L545.6,1144.7 L546.2,1147.1 L546.7,1149.5 L547.3,1151.9 L547.9,1154.4 L548.5,1156.8 L549.1,1159.2 L549.7,1161.6 L550.4,1164.0 L551.0,1166.4 L551.7,1168.8 L552.3,1171.2 L553.0,1173.5 L553.7,1175.9 L554.5,1178.3 L555.2,1180.6 L556.0,1183.0 L556.7,1185.3 L557.5,1187.7 L558.4,1190.0 L559.2,1192.3 L560.1,1194.6 L561.0,1196.9 L561.9,1199.2 L562.8,1201.5 L563.8,1203.8 L564.8,1206.1 L565.8,1208.3 L566.9,1210.6 L567.9,1212.8 L569.1,1215.1 L570.2,1217.3 L571.4,1219.5 L572.6,1221.7 L573.9,1223.9 L575.2,1226.1 L576.5,1228.3 L577.9,1230.5 L579.3,1232.6 L580.7,1234.7 L582.3,1236.8 L583.8,1238.8 L585.4,1240.8 L587.1,1242.8 L588.8,1244.6 L590.6,1246.4 L592.4,1248.1 L594.3,1249.8 L596.2,1251.3 L598.3,1252.8 L600.4,1254.1 L602.5,1255.3 L604.8,1256.4 L607.0,1257.2 L609.4,1257.8 L611.8,1258.1 L614.2,1258.2 L616.6,1258.0 L619.1,1257.7 L621.6,1257.3 L624.1,1256.9 L626.7,1256.6 L629.2,1256.4 L631.7,1256.3 L634.3,1256.2 L636.8,1256.1 L639.3,1256.0 L641.7,1255.7 L644.2,1255.3 L646.6,1254.8 L649.0,1254.1 L651.4,1253.4 L653.7,1252.6 L656.1,1251.7 L658.4,1250.8 L660.8,1249.8 L663.1,1248.8 L665.4,1247.8 L667.7,1246.8 L670.1,1245.9 L672.4,1244.9 L674.7,1244.1 L677.1,1243.3 L679.5,1242.5 L681.8,1241.8 L684.2,1241.2 L686.6,1240.6 L689.0,1240.1 L691.4,1239.5 L693.8,1239.0 L696.2,1238.6 L698.6,1238.1 L701.0,1237.6 L703.5,1237.1 L705.9,1236.5 L708.3,1236.0 L710.7,1235.4 L713.1,1234.8 L715.5,1234.1 L717.9,1233.3 L720.3,1232.5 L722.7,1231.6 L725.0,1230.7 L727.4,1229.7 L729.8,1228.7 L732.1,1227.6 L734.4,1226.5 L736.8,1225.4 L739.1,1224.3 L741.4,1223.2 L743.7,1222.1 L746.0,1221.0 L748.3,1219.9 L750.6,1218.8 L752.9,1217.8 L755.1,1216.8 L757.4,1215.8 L759.6,1214.8 L761.9,1213.9 L764.1,1212.9 L766.3,1212.0 L768.5,1211.1 L770.7,1210.1 L772.9,1209.2 L775.1,1208.2 L777.3,1207.2 L779.5,1206.2 L781.6,1205.2 L783.8,1204.1 L786.0,1203.0 L788.2,1201.9 L790.4,1200.7 L792.5,1199.4 L794.7,1198.1 L796.9,1196.8 L799.1,1195.4 L801.3,1194.0 L803.5,1192.5 L805.7,1191.1 L807.9,1189.7 L810.2,1188.4 L812.4,1187.1 L814.7,1185.9 L816.9,1184.8 L819.2,1183.7 L821.5,1182.7 L823.8,1181.7 L826.1,1180.8 L828.4,1179.9 L830.7,1179.1 L833.1,1178.3 L835.4,1177.5 L837.7,1176.7 L840.1,1176.0 L842.4,1175.3 L844.8,1174.5 L847.1,1173.8 L849.5,1173.1 L851.8,1172.4 L854.2,1171.7 L856.5,1170.9 L858.9,1170.2 L861.3,1169.4 L863.6,1168.6 L866.0,1167.9 L868.3,1167.0 L870.7,1166.2 L873.0,1165.4 L875.4,1164.5 L877.7,1163.7 L880.1,1162.8 L882.4,1161.9 L884.8,1161.0 L887.1,1160.1 L889.4,1159.1 L891.7,1158.2 L894.0,1157.2 L896.3,1156.3 L898.6,1155.3 L900.9,1154.3 L903.2,1153.3 L905.5,1152.3 L907.8,1151.2 L910.0,1150.2 L912.3,1149.2 L914.6,1148.1 L916.9,1147.1 L919.1,1146.0 L921.4,1145.0 L923.7,1143.9 L925.9,1142.9 L928.2,1141.8 L930.5,1140.7 L932.7,1139.7 L935.0,1138.6 L937.2,1137.5 L939.5,1136.5 L941.8,1135.4 L944.1,1134.4 L946.3,1133.3 L948.6,1132.3 L950.9,1131.2 L953.2,1130.2 L955.4,1129.2 L957.7,1128.2 L960.0,1127.2 L962.3,1126.2 L964.6,1125.2 L966.9,1124.2 L969.2,1123.2 L971.6,1122.3 L973.9,1121.3 L976.2,1120.4 L978.6,1119.5 L980.9,1118.6 L983.2,1117.7 L985.6,1116.9 L987.9,1116.0 L990.3,1115.2 L992.7,1114.4 L995.0,1113.6 L997.4,1112.8 L999.8,1112.1 L1002.2,1111.3 L1004.6,1110.6 L1007.0,1109.9 L1009.3,1109.3 L1011.7,1108.6 L1014.1,1108.0 L1016.5,1107.5 L1019.0,1106.9 L1021.4,1106.3 L1023.8,1105.8 L1026.2,1105.3 L1028.6,1104.8 L1031.0,1104.3 L1033.4,1103.8 L1035.8,1103.3 L1038.3,1102.8 L1040.7,1102.3 L1043.1,1101.8 L1045.5,1101.3 L1048.0,1100.7 L1050.4,1100.2 L1052.8,1099.6 L1055.2,1099.0 L1057.7,1098.3 L1060.1,1097.7 L1062.5,1097.0 L1064.9,1096.3 L1067.4,1095.6 L1069.8,1094.8 L1072.2,1094.1 L1074.6,1093.4 L1077.1,1092.6 L1079.5,1091.9 L1081.9,1091.2 L1084.3,1090.4 L1086.7,1089.7 L1089.2,1089.0 L1091.6,1088.3 L1094.0,1087.7 L1096.4,1087.0 L1098.8,1086.4 L1101.2,1085.8 L1103.7,1085.3 L1106.1,1084.7 L1108.5,1084.2 L1110.9,1083.6 L1113.3,1083.1 L1115.7,1082.5 L1118.1,1082.0 L1120.5,1081.4 L1122.9,1080.8 L1125.3,1080.1 L1127.7,1079.4 L1130.1,1078.7 L1132.5,1077.9 L1134.9,1077.1 L1137.3,1076.3 L1139.7,1075.5 L1142.0,1074.7 L1144.4,1073.9 L1146.8,1073.1 L1149.2,1072.4 L1151.6,1071.7 L1153.9,1070.9 L1156.3,1070.2 L1158.7,1069.5 L1161.0,1068.8 L1163.4,1068.1 L1165.7,1067.4 L1168.1,1066.6 L1170.5,1065.9 L1172.8,1065.1 L1175.1,1064.3 L1177.5,1063.5 L1179.8,1062.7 L1182.2,1061.8 L1184.5,1060.9 L1186.8,1060.0 L1189.2,1059.0 L1191.5,1058.0 L1193.8,1057.1 L1196.1,1056.2 L1198.4,1055.3 L1200.7,1054.6 L1203.0,1053.9 L1205.3,1053.3 L1207.6,1052.7 L1209.9,1052.0 L1212.2,1051.2 L1214.5,1050.3 L1216.7,1049.4 L1219.0,1048.3 L1221.3,1047.1 L1223.5,1045.9 L1225.8,1044.6 L1228.0,1043.3 L1230.3,1042.0 L1232.5,1040.6 L1234.7,1039.3 L1236.9,1037.9 L1239.2,1036.6 L1241.3,1035.4 L1243.5,1034.2 L1245.7,1033.0 L1247.9,1031.8 L1250.0,1030.6 L1252.2,1029.4 L1254.3,1028.2 L1256.4,1027.0 L1258.5,1025.7 L1260.6,1024.4 L1262.7,1023.1 L1264.7,1021.7 L1266.8,1020.3 L1268.8,1018.9 L1270.8,1017.5 L1272.8,1016.1 L1274.8,1014.6 L1276.8,1013.1 L1278.7,1011.5 L1280.7,1010.0 L1282.6,1008.4 L1284.5,1006.8 L1286.4,1005.1 L1288.2,1003.5 L1290.1,1001.8 L1291.9,1000.1 L1293.7,998.4 L1295.5,996.6 L1297.2,994.9 L1299.0,993.1 L1300.7,991.3 L1302.4,989.4 L1304.1,987.6 L1305.7,985.7 L1307.4,983.8 L1309.0,981.9 L1310.6,980.0 L1312.2,978.0 L1313.7,976.0 L1315.3,974.1 L1316.8,972.1 L1318.3,970.1 L1319.8,968.0 L1321.3,966.0 L1322.7,963.9 L1324.2,961.9 L1325.6,959.8 L1327.0,957.7 L1328.4,955.6 L1329.7,953.4 L1331.1,951.3 L1332.4,949.2 L1333.7,947.0 L1335.0,944.8 L1336.2,942.7 L1337.5,940.5 L1338.7,938.3 L1339.9,936.1 L1341.1,933.9 L1342.3,931.7 L1343.5,929.5 L1344.6,927.2 L1345.7,925.0 L1346.8,922.8 L1347.9,920.5 L1349.0,918.3 L1350.0,916.0 L1351.1,913.7 L1352.1,911.5 L1353.1,909.2 L1354.1,906.9 L1355.1,904.6 L1356.0,902.4 L1357.0,900.1 L1357.9,897.8 L1358.9,895.5 L1359.8,893.2 L1360.7,890.9 L1361.6,888.5 L1362.4,886.2 L1363.3,883.9 L1364.2,881.6 L1365.0,879.2 L1365.8,876.9 L1366.7,874.5 L1367.5,872.2 L1368.3,869.8 L1369.1,867.5 L1369.9,865.1 L1370.6,862.8 L1371.4,860.4 L1372.2,858.0 L1372.9,855.7 L1373.7,853.3 L1374.4,850.9 L1375.2,848.5 L1375.9,846.1 L1376.6,843.8 L1377.4,841.4 L1378.1,839.0 L1378.8,836.6 L1379.5,834.2 L1380.2,831.8 L1380.9,829.4 L1381.6,827.0 L1382.3,824.6 L1383.0,822.2 L1383.7,819.7 L1384.4,817.3 L1385.0,814.9 L1385.7,812.5 L1386.4,810.1 L1387.0,807.6 L1387.7,805.2 L1388.3,802.8 L1389.0,800.4 L1389.6,797.9 L1390.3,795.5 L1390.9,793.1 L1391.5,790.6 L1392.1,788.2 L1392.8,785.8 L1393.4,783.3 L1394.0,780.9 L1394.6,778.5 L1395.2,776.0 L1395.8,773.6 L1396.4,771.2 L1397.0,768.7 L1397.6,766.3 L1398.2,763.8 L1398.8,761.4 L1399.3,759.0 L1399.9,756.5 L1400.5,754.1 L1401.1,751.6 L1401.6,749.2 L1402.2,746.8 L1402.7,744.3 L1403.3,741.9 L1403.8,739.4 L1404.4,737.0 L1404.9,734.5 L1405.5,732.1 L1406.0,729.7 L1406.5,727.2 L1407.1,724.8 L1407.6,722.3 L1408.1,719.9 L1408.6,717.4 L1409.2,715.0 L1409.7,712.5 L1410.2,710.1 L1410.7,707.6 L1411.2,705.2 L1411.7,702.7 L1412.2,700.3 L1412.7,697.9 L1413.2,695.4 L1413.7,693.0 L1414.2,690.5 L1414.7,688.1 L1415.2,685.6 L1415.7,683.2 L1416.2,680.7 L1416.6,678.3 L1417.1,675.8 L1417.6,673.4 L1418.1,670.9 L1418.5,668.4 L1419.0,666.0 L1419.5,663.5 L1420.0,661.1 L1420.4,658.6 L1420.9,656.2 L1421.3,653.7 L1421.8,651.3 L1422.3,648.8 L1422.7,646.4 L1423.2,643.9 L1423.6,641.5 L1424.1,639.0 L1424.5,636.6 L1425.0,634.1 L1425.4,631.6 L1425.9,629.2 L1426.3,626.7 L1426.8,624.3 L1427.2,621.8 L1427.7,619.4 L1428.1,616.9 L1428.5,614.4 L1429.0,612.0 L1429.4,609.5 L1429.9,607.1 L1430.3,604.6 L1430.7,602.2 L1431.2,599.7 L1431.6,597.2 L1432.0,594.8 L1432.5,592.3 L1432.9,589.9 L1433.3,587.4 L1433.8,584.9 L1434.2,582.5 L1434.6,580.0 L1435.1,577.6 L1435.5,575.1 L1435.9,572.6 L1436.4,570.2 L1436.8,567.7 L1437.2,565.2 L1437.6,562.8 L1438.1,560.3 L1438.5,557.9 L1438.9,555.4 L1439.4,552.9 L1439.8,550.5 L1440.2,548.0 L1440.6,545.5 L1441.1,543.1 L1441.5,540.6 L1441.9,538.2 L1442.3,535.7 L1442.8,533.2 L1443.2,530.8 L1443.6,528.3 L1444.0,525.8 L1444.5,523.4 L1444.9,520.9 L1445.3,518.4 L1445.7,516.0 L1446.1,513.5 L1446.6,511.0 L1447.0,508.6 L1447.4,506.1 L1447.8,503.6 L1448.2,501.2 L1448.7,498.7 L1449.1,496.2 L1449.5,493.8 L1449.9,491.3 L1450.3,488.8 L1450.8,486.4 L1451.2,483.9 L1451.6,481.4 L1452.0,479.0 L1452.4,476.5 L1452.8,474.0 L1453.3,471.6 L1453.7,469.1 L1454.1,466.6 L1454.5,464.2 L1454.9,461.7 L1455.3,459.2 L1455.7,456.8 L1456.2,454.3 L1456.6,451.8 L1457.0,449.4 L1457.4,446.9 L1457.8,444.4 L1458.2,442.0 L1458.6,439.5 L1459.1,437.0 L1459.5,434.6 L1459.9,432.1 L1460.3,429.6 L1460.7,427.1 L1461.1,424.7 L1461.5,422.2 L1461.9,419.7 L1462.4,417.3 L1462.8,414.8 L1463.2,412.3 L1463.6,409.9 L1464.0,407.4 L1464.4,404.9 L1464.8,402.5 L1465.2,400.0 L1465.6,397.5 L1466.1,395.0 L1466.5,392.6 L1466.9,390.1 L1467.3,387.6 L1467.7,385.2 L1468.1,382.7 L1468.5,380.2 L1469.0,377.8 L1469.4,375.3 L1469.8,372.8 L1470.2,370.4 L1470.6,367.9 L1471.0,365.4 L1471.5,363.0 L1471.9,360.5 L1472.3,358.0 L1472.7,355.6 L1473.1,353.1 L1473.6,350.6 L1474.0,348.2 L1474.4,345.7 L1474.8,343.2 L1475.3,340.8 L1475.7,338.3 L1476.1,335.8 L1476.6,333.4 L1477.0,330.9 L1477.4,328.5 L1477.8,326.0 L1478.3,323.5 L1478.7,321.1 L1479.2,318.6 L1479.6,316.1 L1480.0,313.7 L1480.5,311.2 L1480.9,308.8 L1481.4,306.3 L1481.8,303.9 L1482.3,301.4 L1482.7,298.9 L1483.1,296.5 L1483.6,294.0 L1484.1,291.6 L1484.5,289.1 L1485.0,286.7 L1485.4,284.2 L1485.9,281.8 L1486.3,279.3 L1486.8,276.9 L1487.3,274.4 L1487.7,272.0 L1488.2,269.5 L1488.7,267.1 L1489.2,264.6 L1489.6,262.2 L1490.1,259.7 L1490.6,257.3 L1491.1,254.8 L1491.6,252.4 L1492.1,249.9 L1492.5,247.5 L1493.0,245.1 L1493.5,242.6 L1494.0,240.2 L1494.5,237.7 L1495.0,235.3 L1495.6,232.9 L1496.1,230.4 L1496.6,228.0 L1497.1,225.6 L1497.7,223.1 L1498.2,220.7 L1498.8,218.3 L1499.3,215.8 L1499.9,213.4 L1500.5,211.0 L1501.1,208.6 L1501.7,206.2 L1502.4,203.7 L1503.0,201.3 L1503.7,198.9 L1504.4,196.5 L1505.1,194.1 L1505.8,191.7 L1506.5,189.2 L1507.2,186.8 L1508.0,184.4 L1508.8,182.0 L1509.6,179.6 L1510.5,177.2 L1511.3,174.8 L1512.2,172.4 L1513.1,170.0 L1514.0,167.7 L1515.0,165.3 L1515.9,162.9 L1517.0,160.5 L1518.0,158.1 L1519.1,155.8 L1520.2,153.4 L1521.3,151.2 L1522.6,149.0 L1523.9,147.0 L1525.3,145.1 L1526.7,143.3 L1528.3,141.7 L1530.0,140.4 L1531.8,139.3 L1533.8,138.5 L1535.8,138.3 L1538.1,138.6 L1540.4,139.3 L1542.7,140.5 L1544.8,142.0 L1546.7,143.8 L1548.3,145.8 L1549.6,148.0 L1550.8,150.4 L1551.9,152.8 L1552.9,155.2 L1553.9,157.6 L1554.9,160.0 L1555.8,162.4 L1556.7,164.7 L1557.6,167.1 L1558.4,169.5 L1559.2,171.9 L1560.0,174.2 L1560.8,176.6 L1561.6,179.0 L1562.3,181.3 L1563.1,183.7 L1563.8,186.1 L1564.5,188.4 L1565.2,190.8 L1565.9,193.2 L1566.6,195.5 L1567.3,197.9 L1568.0,200.3 L1568.7,202.7 L1569.4,205.0 L1570.1,207.4 L1570.8,209.8 L1571.5,212.2 L1572.2,214.6 L1572.9,217.0 L1573.6,219.4 L1574.2,221.8 L1574.9,224.2 L1575.6,226.6 L1576.3,229.0 L1576.9,231.4 L1577.6,233.8 L1578.3,236.2 L1579.0,238.6 L1579.6,241.0 L1580.3,243.4 L1581.0,245.8 L1581.6,248.2 L1582.3,250.7 L1583.0,253.1 L1583.6,255.5 L1584.3,257.9 L1585.0,260.3 L1585.6,262.7 L1586.3,265.2 L1586.9,267.6 L1587.6,270.0 L1588.3,272.4 L1588.9,274.9 L1589.6,277.3 L1590.2,279.7 L1590.9,282.1 L1591.5,284.5 L1592.2,287.0 L1592.8,289.4 L1593.5,291.8 L1594.1,294.2 L1594.8,296.7 L1595.4,299.1 L1596.1,301.5 L1596.7,303.9 L1597.4,306.4 L1598.0,308.8 L1598.7,311.2 L1599.3,313.6 L1599.9,316.0 L1600.6,318.4 L1601.2,320.9 L1601.9,323.3 L1602.5,325.7 L1603.2,328.1 L1603.8,330.5 L1604.5,332.9 L1605.2,335.3 L1605.8,337.7 L1606.5,340.1 L1607.2,342.5 L1607.9,344.9 L1608.6,347.3 L1609.3,349.7 L1610.1,352.0 L1610.8,354.4 L1611.5,356.8 L1612.3,359.2 L1613.1,361.5 L1613.9,363.9 L1614.7,366.2 L1615.5,368.6 L1616.4,370.9 L1617.2,373.2 L1618.1,375.6 L1619.0,377.9 L1619.9,380.2 L1620.9,382.5 L1621.8,384.8 L1622.8,387.1 L1623.8,389.3 L1624.9,391.6 L1625.9,393.9 L1627.0,396.1 L1628.1,398.4 L1629.2,400.6 L1630.4,402.9 L1631.6,405.1 L1632.8,407.3 L1634.1,409.5 L1635.4,411.7 L1636.7,413.9 L1638.0,416.0 L1639.3,418.2 L1640.6,420.4 L1642.0,422.5 L1643.3,424.7 L1644.6,426.9 L1645.9,429.0 L1647.2,431.2 L1648.5,433.3 L1649.8,435.5 L1651.0,437.6 L1652.2,439.8 L1653.4,442.0 L1654.5,444.1 L1655.6,446.3 L1656.7,448.5 L1657.8,450.7 L1658.9,452.9 L1659.9,455.1 L1661.0,457.3 L1662.0,459.5 L1663.1,461.7 L1664.1,464.0 L1665.1,466.2 L1666.2,468.5 L1667.2,470.7 L1668.2,473.0 L1669.2,475.3 L1670.2,477.5 L1671.3,479.8 L1672.3,482.1 L1673.3,484.4 L1674.3,486.7 L1675.3,489.0 L1676.3,491.4 L1677.3,493.7 L1678.2,496.0 L1679.2,498.3 L1680.2,500.6 L1681.2,503.0 L1682.1,505.3 L1683.1,507.7 L1684.0,510.0 L1685.0,512.3 L1685.9,514.7 L1686.8,517.0 L1687.7,519.4 L1688.6,521.8 L1689.5,524.1 L1690.3,526.5 L1691.2,528.8 L1692.0,531.2 L1692.8,533.6 L1693.6,535.9 L1694.4,538.3 L1695.1,540.7 L1695.9,543.1 L1696.6,545.5 L1697.2,547.8 L1697.9,550.2 L1698.6,552.6 L1699.2,555.0 L1699.9,557.4 L1700.5,559.8 L1701.2,562.1 L1701.8,564.5 L1702.5,566.9 L1703.2,569.3 L1703.9,571.7 L1704.6,574.1 L1705.4,576.5 L1706.2,578.9 L1707.0,581.3 L1707.9,583.6 L1708.8,586.0 L1709.7,588.4 L1710.6,590.8 L1711.5,593.2 L1712.4,595.6 L1713.3,598.0 L1714.1,600.4 L1715.0,602.7 L1715.8,605.1 L1716.6,607.5 L1717.4,609.9 L1718.2,612.3 L1719.0,614.6 L1719.8,617.0 L1720.5,619.4 L1721.3,621.8 L1722.1,624.1 L1722.8,626.5 L1723.6,628.9 L1724.3,631.2 L1725.1,633.6 L1725.8,636.0 L1726.6,638.3 L1727.3,640.7 L1728.1,643.0 L1728.9,645.4 L1729.6,647.7 L1730.4,650.1 L1731.2,652.4 L1732.0,654.7 L1732.8,657.1 L1733.6,659.4 L1734.5,661.7 L1735.3,664.0 L1736.2,666.3 L1737.1,668.7 L1738.0,671.0 L1738.9,673.3 L1739.8,675.6 L1740.8,677.9 L1741.8,680.1 L1742.8,682.4 L1743.8,684.7 L1744.9,687.0 L1745.9,689.2 L1747.1,691.5 L1748.2,693.8 L1749.4,696.0 L1750.5,698.2 L1751.8,700.5 L1753.0,702.7 L1754.3,704.9 L1755.6,707.0 L1756.9,709.2 L1758.2,711.3 L1759.6,713.4 L1761.0,715.6 L1762.5,717.6 L1763.9,719.7 L1765.4,721.7 L1766.9,723.7 L1768.5,725.7 L1770.0,727.7 L1771.7,729.6 L1773.3,731.5 L1774.9,733.4 L1776.6,735.2 L1778.4,737.0 L1780.1,738.8 L1781.9,740.5 L1783.7,742.2 L1785.6,743.9 L1787.4,745.5 L1789.3,747.1 L1791.3,748.6 L1793.2,750.1 L1795.2,751.5 L1797.3,753.0 L1799.3,754.3 L1801.4,755.6 L1803.5,756.9 L1805.7,758.1 L1807.9,759.3 L1810.1,760.4 L1812.3,761.5 L1814.6,762.5 L1816.9,763.4 L1819.3,764.3 L1821.7,765.2 L1824.1,765.9 L1826.5,766.7 L1829.0,767.3 L1831.5,767.9" fill="none" stroke="#00f" stroke-width="6" stroke-linejoin="round" stroke-linecap="round"/>
<text class="r" x="909.9" y="877" font-size="68">(A)</text>
<text class="r" x="1174.7" y="628" font-size="68">(B)</text>
<text class="r" x="1360" y="423" font-size="68" textLength="88.4" lengthAdjust="spacingAndGlyphs">(C)</text>
</svg>
</body></html>
